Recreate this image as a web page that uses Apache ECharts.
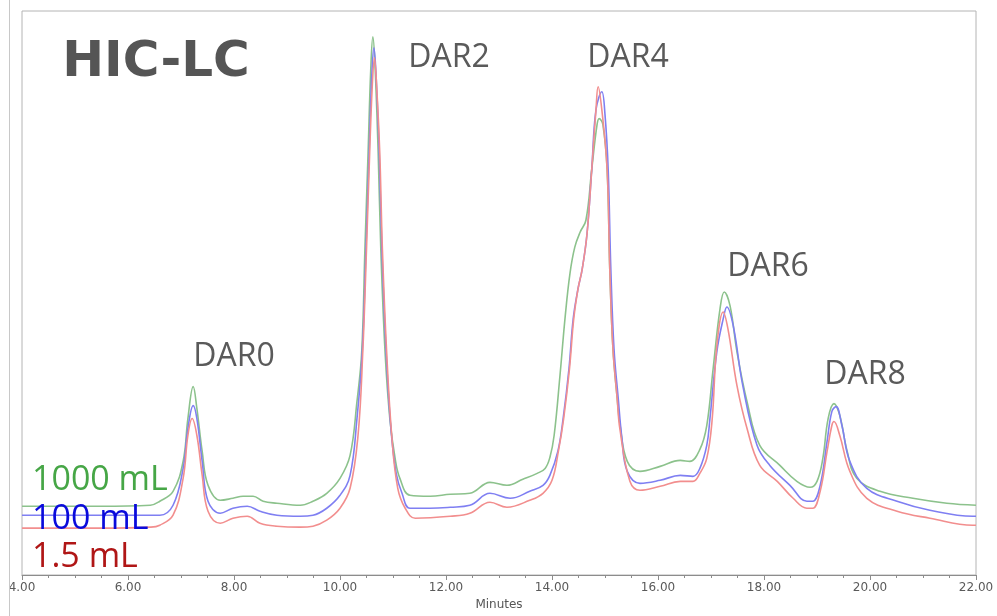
<!DOCTYPE html>
<html>
<head>
<meta charset="utf-8">
<script src="https://cdn.jsdelivr.net/npm/echarts@6/dist/echarts.min.js"></script>
<style>html,body{margin:0;padding:0;background:#fff}#c{width:997px;height:616px}</style>
</head>
<body>
<div id="c"></div>
<script>
// x tick labels (minutes)
const xTicks = [4, 6, 8, 10, 12, 14, 16, 18, 20, 22];
const seriesNames = ['1000 mL', '100 mL', '1.5 mL'];
const peakLabels = ['DAR0', 'DAR2', 'DAR4', 'DAR6', 'DAR8'];

// [minutes, detector response (arbitrary units)]
const trace1000 = [
  [4.00,69],[5.47,69],[6.42,70],[6.60,74],[6.85,84],[7.04,114],[7.13,157],[7.23,189],[7.30,167],[7.40,124],
  [7.51,90],[7.74,75],[7.98,77],[8.17,79],[8.36,79],[8.55,74],[8.81,72],[9.25,70],[9.49,74],[9.75,82],
  [10.00,97],[10.19,120],[10.32,174],[10.41,224],[10.47,327],[10.53,424],[10.58,507],[10.62,540],[10.66,512],
  [10.72,424],[10.77,327],[10.85,224],[10.94,157],[11.04,117],[11.13,97],[11.32,80],[11.70,79],[12.08,81],
  [12.45,82],[12.83,93],[13.15,90],[13.45,96],[13.72,102],[13.87,107],[13.96,118],[14.04,140],[14.15,200],
  [14.25,260],[14.34,303],[14.43,329],[14.53,344],[14.64,356],[14.75,407],[14.85,452],[14.89,458],[14.96,452],
  [15.04,407],[15.09,307],[15.15,227],[15.23,177],[15.28,152],[15.42,114],[15.66,104],[16.04,109],[16.42,115],
  [16.60,114],[16.79,126],[16.92,150],[17.04,207],[17.17,267],[17.25,284],[17.36,270],[17.49,224],[17.68,174],
  [17.92,130],[18.30,110],[18.62,94],[18.87,88],[19.00,94],[19.11,117],[19.21,157],[19.32,172],[19.43,160],
  [19.57,124],[19.75,97],[20.19,84],[20.81,77],[21.45,72],[22.00,70]
];
const trace100 = [
  [4.00,60],[5.47,60],[6.42,60],[6.60,60],[6.85,70],[7.04,107],[7.13,147],[7.23,170],[7.30,157],[7.40,114],
  [7.51,74],[7.74,62],[7.98,67],[8.25,69],[8.49,64],[8.81,60],[9.25,59],[9.49,60],[9.75,67],[10.00,80],
  [10.19,100],[10.32,157],[10.42,224],[10.49,327],[10.55,424],[10.60,502],[10.64,529],[10.68,502],[10.74,424],
  [10.79,327],[10.87,224],[10.96,147],[11.06,102],[11.17,82],[11.32,67],[11.70,67],[12.08,68],[12.45,70],
  [12.83,82],[13.21,77],[13.58,84],[13.83,90],[13.96,100],[14.11,124],[14.21,157],[14.32,207],[14.40,257],
  [14.49,287],[14.57,307],[14.66,342],[14.75,407],[14.83,467],[14.94,485],[15.00,462],[15.06,407],[15.11,307],[15.17,227],
  [15.25,177],[15.32,137],[15.42,104],[15.66,92],[16.04,95],[16.42,100],[16.66,99],[16.79,107],[16.92,130],
  [16.98,157],[17.11,224],[17.23,257],[17.30,269],[17.42,250],[17.60,190],[17.87,130],[18.11,110],[18.49,90],
  [18.81,74],[18.92,74],[19.06,90],[19.19,134],[19.28,164],[19.36,169],[19.47,150],[19.62,114],[19.94,87],
  [20.51,74],[21.13,65],[21.94,59],[22.00,59]
];
const trace15 = [
  [4.00,47],[5.47,47],[6.42,48],[6.60,50],[6.85,60],[7.04,97],[7.13,140],[7.21,157],[7.30,140],[7.40,100],
  [7.51,64],[7.74,52],[7.98,57],[8.25,59],[8.49,52],[8.81,49],[9.25,48],[9.49,49],[9.75,55],[10.00,67],
  [10.19,87],[10.34,140],[10.43,224],[10.50,327],[10.56,424],[10.61,492],[10.65,519],[10.69,492],[10.75,424],
  [10.80,327],[10.88,224],[10.98,137],[11.09,87],[11.23,67],[11.42,57],[12.08,59],[12.45,62],[12.83,73],
  [13.15,68],[13.58,75],[13.83,82],[14.00,95],[14.12,124],[14.22,157],[14.33,207],[14.41,257],[14.49,287],
  [14.57,307],[14.66,342],[14.75,407],[14.83,467],[14.87,490],[14.94,467],[15.04,407],[15.09,307],[15.15,227],[15.23,177],
  [15.28,147],[15.47,94],[15.66,85],[16.04,89],[16.42,94],[16.66,94],[16.79,102],[16.92,117],[17.02,155],
  [17.11,230],[17.23,264],[17.32,247],[17.49,190],[17.68,147],[17.92,110],[18.25,94],[18.55,77],[18.81,67],
  [18.92,67],[19.06,84],[19.19,124],[19.28,150],[19.32,154],[19.43,140],[19.62,104],[19.94,77],[20.51,64],
  [21.13,57],[21.94,50],[22.00,50]
];

const lineColors = ['#8cc28c', '#7f7ff2', '#f28e8e'];
const textColors = ['#46a646', '#0a0adc', '#b01616'];

const chart = echarts.init(document.getElementById('c'), null, {renderer: 'canvas'});
const traces = [trace1000, trace100, trace15];

const peakPos = [[234, 357], [449, 58], [628, 58], [768, 267], [865, 375]];
const legendPos = [[32, 480], [32, 519], [32, 557]];

const graphics = [];
peakLabels.forEach((t, i) => graphics.push({
  type: 'text', x: peakPos[i][0], y: peakPos[i][1],
  style: {text: t, fill: '#5a5a5a', font: '32px "Open Sans"', align: 'center', verticalAlign: 'middle'}
}));
seriesNames.forEach((t, i) => graphics.push({
  type: 'text', x: legendPos[i][0], y: legendPos[i][1],
  style: {text: t, fill: textColors[i], font: '34px "Open Sans"', align: 'left', verticalAlign: 'middle'}, z: 10
}));
graphics.push({
  type: 'text', x: 156, y: 63,
  style: {text: 'HIC-LC', fill: '#555555', font: 'bold 50px "DejaVu Sans"', align: 'center', verticalAlign: 'middle'}
});
graphics.push({type: 'rect', shape: {x: 0, y: 0, width: 9, height: 616}, style: {fill: '#ffffff'}, z: 20});
graphics.push({type: 'line', shape: {x1: 9.5, y1: 0, x2: 9.5, y2: 616}, style: {stroke: '#c8c8c8', lineWidth: 1}, z: 21});

chart.setOption({
  animation: false,
  backgroundColor: '#ffffff',
  grid: {left: 22, right: 21, top: 11, bottom: 39, show: true, borderColor: '#b4b4b4', borderWidth: 1},
  xAxis: {
    type: 'value', min: 4, max: 22, interval: 2,
    name: 'Minutes', nameLocation: 'middle', nameGap: 24,
    nameTextStyle: {fontFamily: 'DejaVu Sans', fontSize: 12, color: '#555'},
    axisLine: {show: true, lineStyle: {color: '#8c8c8c', width: 1}},
    axisTick: {show: true, length: 5, inside: false, lineStyle: {color: '#8c8c8c'}},
    minorTick: {show: true, splitNumber: 4, length: 3, lineStyle: {color: '#8c8c8c'}},
    splitLine: {show: false},
    axisLabel: {
      margin: 7, fontFamily: 'DejaVu Sans', fontSize: 12, color: '#5a5a5a',
      formatter: v => xTicks.includes(v) ? v.toFixed(2) : ''
    }
  },
  yAxis: {type: 'value', min: 0, max: 566, show: false, splitLine: {show: false}},
  series: traces.map((d, i) => ({
    name: seriesNames[i], type: 'line', data: d, showSymbol: false, symbol: 'none',
    smooth: 0.4, lineStyle: {color: lineColors[i], width: 1.6}, z: 2 + i
  })),
  graphic: graphics
});
</script>
</body>
</html>
